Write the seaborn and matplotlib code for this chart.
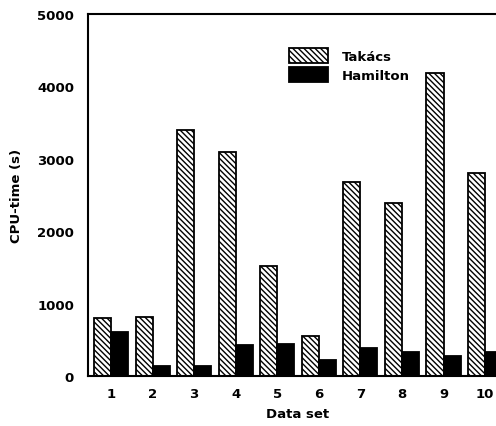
import matplotlib
matplotlib.use("Agg")
import matplotlib.pyplot as plt
import seaborn as sns
import pandas as pd

datasets = ["1", "2", "3", "4", "5", "6", "7", "8", "9", "10"]
takacs = [800, 810, 3400, 3090, 1525, 557, 2684, 2390, 4185, 2800]
hamilton = [603, 142, 142, 428, 447, 216, 382, 331, 281, 336]
series = ["Takács", "Hamilton"]

df = pd.DataFrame({
    "Data set": datasets * 2,
    "CPU": takacs + hamilton,
    "Method": [series[0]] * len(datasets) + [series[1]] * len(datasets),
})

sns.set_style("white")
plt.rcParams["font.family"] = ["DejaVu Sans"]
plt.rcParams["hatch.linewidth"] = 1.0
for k in ["text.color", "axes.labelcolor", "xtick.color", "ytick.color"]:
    plt.rcParams[k] = "black"

fig = plt.figure(figsize=(4.96, 4.27), dpi=100)
ax = fig.add_axes([0.1774, 0.117, 0.847, 0.848])

sns.barplot(data=df, x="Data set", y="CPU", hue="Method", order=datasets,
            hue_order=series, palette=["white", "black"], width=0.82,
            edgecolor="black", linewidth=1.3, ax=ax, legend=True)

HATCH = "\\\\\\\\\\\\"
for bar in ax.containers[0]:
    bar.set_hatch(HATCH)

ax.set_xlim(-0.553, 9.553)
ax.set_ylim(0, 5000)
ax.set_yticks([0, 1000, 2000, 3000, 4000, 5000])
ax.set_yticklabels(["0", "1000", "2000", "3000", "4000", "5000"],
                   fontsize=9.5, fontweight="bold")
ax.set_xticks(range(len(datasets)))
ax.set_xticklabels(datasets, fontsize=9.5, fontweight="bold")
ax.tick_params(axis="y", direction="in", length=3, width=1, pad=10,
               colors="black")
ax.tick_params(axis="x", length=0, pad=8, colors="black")

ax.set_xlabel("Data set", fontsize=9.5, fontweight="bold", labelpad=5,
              color="black")
ax.set_ylabel("CPU-time (s)", fontsize=9.5, fontweight="bold", labelpad=10,
              color="black")

for s in ["left", "bottom", "top", "right"]:
    ax.spines[s].set_visible(True)
    ax.spines[s].set_linewidth(1.5)
    ax.spines[s].set_color("black")

handles, labels = ax.get_legend_handles_labels()
handles[0].set_hatch(HATCH)
ax.legend(handles, labels, loc="upper left", bbox_to_anchor=(0.45, 0.94),
          frameon=False, handlelength=3.0, handleheight=1.4,
          prop={"size": 9.5, "weight": "bold"}, labelspacing=0.3,
          handletextpad=1.0)

fig.savefig("out.png", dpi=100)
